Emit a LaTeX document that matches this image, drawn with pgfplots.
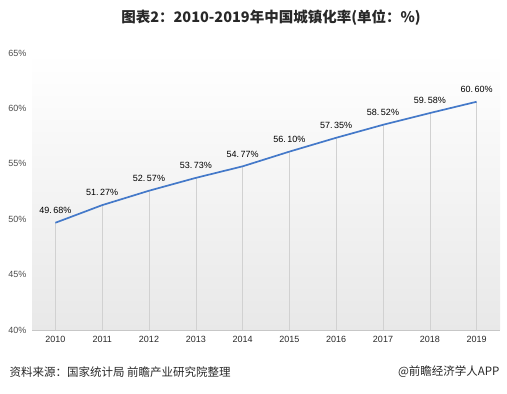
\documentclass[border=0pt]{standalone}
\usepackage{pgfplots}
\pgfplotsset{compat=1.18}
\usepackage{fontspec}
\setmainfont{Liberation Sans}
\newfontfamily\cjk{Noto Sans CJK SC}
\definecolor{lineblue}{RGB}{68,121,201}
\definecolor{txt}{RGB}{40,40,40}
\begin{document}
\begin{tikzpicture}[x=1pt,y=1pt]
\useasboundingbox (0,0) rectangle (507,394);
\node[anchor=center,font=\cjk\bfseries\fontsize{14.5}{16}\selectfont,text=txt] at (271,376) {图表2：2010-2019年中国城镇化率(单位：\%)};
\begin{axis}[
  at={(32pt,64pt)}, anchor=south west, scale only axis,
  width=468pt, height=277pt,
  xmin=-0.5, xmax=9.5, ymin=40, ymax=65,
  axis background/.style={shade, top color=white, bottom color=black!9},
  axis x line=bottom, axis y line=left,
  axis line style={-},
  x axis line style={draw=black!22},
  y axis line style={draw=none},
  xtick={0,...,9},
  xticklabels={2010,2011,2012,2013,2014,2015,2016,2017,2018,2019},
  ytick={40,45,50,55,60,65},
  yticklabel={\pgfmathprintnumber{\tick}\%},
  /pgf/number format/assume math mode=true,
  major tick length=0pt,
  tick style={draw=none},
  xticklabel style={font=\fontsize{9}{10}\selectfont, text=txt, yshift=-3pt},
  yticklabel style={font=\fontsize{9}{10}\selectfont, text=black!70, xshift=-2pt},
  clip=false,
]
\addplot[ycomb, draw=black!18, line width=0.6pt, mark=none] coordinates {
(0,49.68) (1,51.27) (2,52.57) (3,53.73) (4,54.77) (5,56.10) (6,57.35) (7,58.52) (8,59.58) (9,60.60)};
\addplot[lineblue, line width=1.7pt, mark=none,
  point meta=explicit symbolic,
  nodes near coords={\pgfplotspointmeta\%},
  every node near coord/.style={font=\fontsize{9}{10}\selectfont, text=black, anchor=south, yshift=5pt},
] table[meta=lab] {
x y lab
0 49.68 49.\,68
1 51.27 51.\,27
2 52.57 52.\,57
3 53.73 53.\,73
4 54.77 54.\,77
5 56.10 56.\,10
6 57.35 57.\,35
7 58.52 58.\,52
8 59.58 59.\,58
9 60.60 60.\,60
};
\end{axis}
\node[anchor=west,font=\cjk\fontsize{11.5}{13}\selectfont,text=txt] at (6,22) {资料来源：国家统计局 前瞻产业研究院整理};
\node[anchor=east,font=\cjk\fontsize{11.5}{13}\selectfont,text=txt] at (503,22) {@前瞻经济学人APP};
\end{tikzpicture}
\end{document}
